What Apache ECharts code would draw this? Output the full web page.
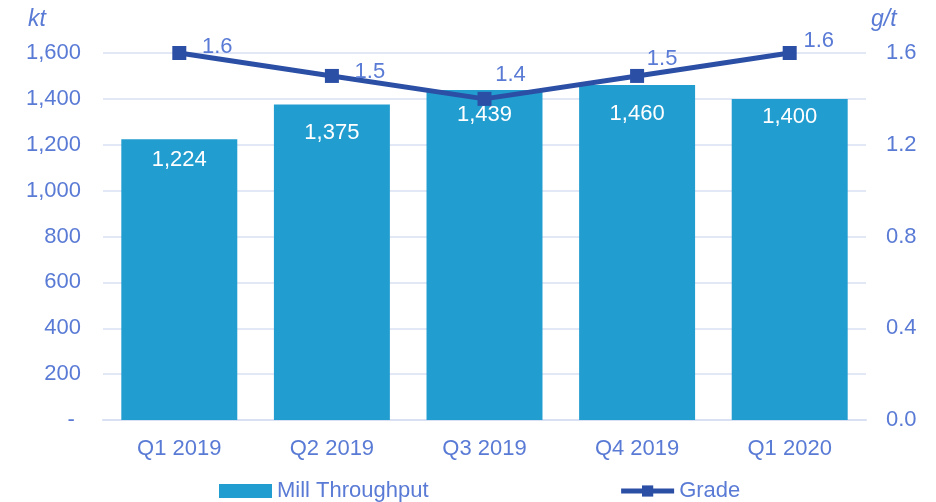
<!DOCTYPE html>
<html>
<head>
<meta charset="utf-8">
<script src="https://cdn.jsdelivr.net/npm/echarts@6/dist/echarts.min.js"></script>
<style>
  html, body { margin: 0; padding: 0; background: #fff; }
  #main { width: 936px; height: 502px; }
</style>
</head>
<body>
<div id="main"></div>
<script>
// 数据
var quarters = ['Q1 2019', 'Q2 2019', 'Q3 2019', 'Q4 2019', 'Q1 2020']
var throughput = [1224, 1375, 1439, 1460, 1400]
var grade = [1.6, 1.5, 1.4, 1.5, 1.6]
var kgTicks = [0, 200, 400, 600, 800, 1000, 1200, 1400, 1600]

// 标签位置微调（仅样式）
var gradeLabelOffset = [[38, 17], [38, 19], [26, -1], [25, 6], [29, 11]]
var barLabelDistance = [10, 17, 14, 18, 7]

var textColor = '#5a7bd5'
var gridColor = '#dae0f3'
var lineColor = '#2c4fa6'
var font = 'Liberation Sans'

var myChart = echarts.init(document.getElementById('main'))

var option = {
    animation: false,
    textStyle: { fontFamily: font },
    title: [
        {
            text: 'kt', left: 23, top: 3,
            textStyle: { color: textColor, fontSize: 23, fontStyle: 'italic', fontWeight: 'normal', fontFamily: font }
        },
        {
            text: 'g/t', left: 866, top: 3,
            textStyle: { color: textColor, fontSize: 23, fontStyle: 'italic', fontWeight: 'normal', fontFamily: font }
        }
    ],
    grid: { left: 103, right: 70, top: 53, bottom: 82 },
    legend: {
        left: 214,
        top: 475,
        itemWidth: 53,
        itemHeight: 14,
        itemGap: 190,
        textStyle: { color: textColor, fontSize: 22, fontFamily: font },
        data: [
            { name: 'Mill Throughput', icon: 'rect' },
            { name: 'Grade', lineStyle: { width: 5, color: lineColor } }
        ]
    },
    xAxis: {
        type: 'category',
        data: quarters,
        axisLine: { lineStyle: { color: gridColor, width: 2 } },
        axisTick: { show: false },
        axisLabel: { color: textColor, fontSize: 22, margin: 18, fontFamily: font }
    },
    yAxis: [
        {
            type: 'value',
            min: kgTicks[0],
            max: kgTicks[kgTicks.length - 1],
            interval: kgTicks[1] - kgTicks[0],
            splitLine: { lineStyle: { color: gridColor, width: 1.5 } },
            axisLabel: {
                color: textColor, fontSize: 22, margin: 22, fontFamily: font,
                formatter: function (v) { return v === 0 ? '- ' : v.toLocaleString('en-US') }
            }
        },
        {
            type: 'value',
            min: 0,
            max: 1.6,
            interval: 0.4,
            splitLine: { show: false },
            axisLabel: {
                color: textColor, fontSize: 22, margin: 20, fontFamily: font,
                formatter: function (v) { return v.toFixed(1) }
            }
        }
    ],
    series: [
        {
            name: 'Mill Throughput',
            type: 'bar',
            barCategoryGap: '24%',
            itemStyle: { color: '#229dd0' },
            data: throughput.map(function (v, i) {
                return {
                    value: v,
                    label: {
                        show: true,
                        position: 'insideTop',
                        distance: barLabelDistance[i],
                        color: '#ffffff',
                        fontSize: 22,
                        fontFamily: font,
                        formatter: function (p) { return p.value.toLocaleString('en-US') }
                    }
                }
            })
        },
        {
            name: 'Grade',
            type: 'line',
            yAxisIndex: 1,
            symbol: 'rect',
            symbolSize: 14,
            lineStyle: { color: lineColor, width: 5 },
            itemStyle: { color: lineColor },
            data: grade.map(function (v, i) {
                return {
                    value: v,
                    label: {
                        show: true,
                        position: 'top',
                        offset: gradeLabelOffset[i],
                        color: textColor,
                        fontSize: 22,
                        fontFamily: font,
                        formatter: function (p) { return p.value.toFixed(1) }
                    }
                }
            })
        }
    ]
}

myChart.setOption(option)
</script>
</body>
</html>
